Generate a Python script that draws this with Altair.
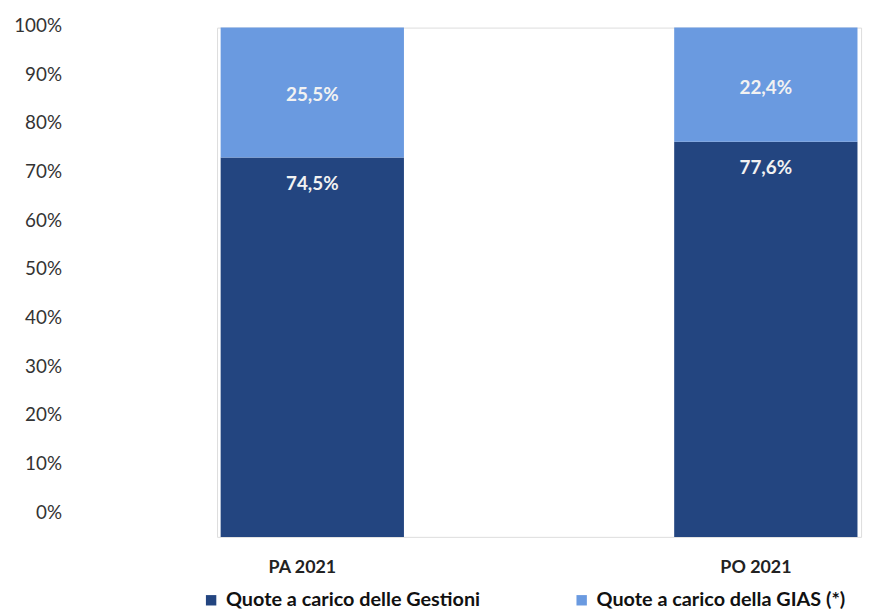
import altair as alt
import pandas as pd

categories = ["PA 2021", "PO 2021"]
gestioni = [0.745, 0.776]
gias = [0.255, 0.224]
gestioni_labels = ["74,5%", "77,6%"]
gias_labels = ["25,5%", "22,4%"]
series = ["Quote a carico delle Gestioni", "Quote a carico della GIAS (*)"]
colors = ["#234580", "#6a9ae0"]
ticks = [i / 10 for i in range(11)]

rows = []
for c, g, s, gl, sl in zip(categories, gestioni, gias, gestioni_labels, gias_labels):
    rows.append({"cat": c, "serie": series[0], "val": g, "ord": 0, "lab": gl, "ypos": g})
    rows.append({"cat": c, "serie": series[1], "val": s, "ord": 1, "lab": sl, "ypos": g + s / 2})
df = pd.DataFrame(rows)

FONT = "Lato"

xenc = alt.X("cat:N", sort=categories, title=None,
             scale=alt.Scale(paddingInner=0.58, paddingOuter=0),
             axis=alt.Axis(labelAngle=0, domain=False, ticks=False, grid=False, labelFont=FONT,
                           labelFontSize=18, labelFontWeight="bold", labelColor="#222222",
                           labelPadding=22, labelOffset=-10))

bars = alt.Chart(df).mark_bar(size=185, strokeWidth=0).encode(
    x=xenc,
    y=alt.Y("val:Q", stack="zero", scale=alt.Scale(domain=[0, 1]), axis=None),
    color=alt.Color("serie:N", scale=alt.Scale(domain=series, range=colors),
                    legend=alt.Legend(title=None, orient="none", direction="horizontal",
                                      legendX=-16, legendY=568, symbolType="square",
                                      symbolSize=110, symbolStrokeWidth=0, labelLimit=500,
                                      labelFont=FONT, labelFontSize=20, labelFontWeight="bold",
                                      labelColor="#111111", columnPadding=92, labelOffset=5)),
    order=alt.Order("ord:Q"),
)

txt_gias = alt.Chart(df[df["ord"] == 1]).mark_text(
    font=FONT, fontSize=19, fontWeight="bold", color="#f2f2f2", baseline="middle", dy=3
).encode(
    x=alt.X("cat:N", sort=categories),
    y=alt.Y("ypos:Q", scale=alt.Scale(domain=[0, 1])),
    text="lab:N",
)

txt_gest = alt.Chart(df[df["ord"] == 0]).mark_text(
    font=FONT, fontSize=19, fontWeight="bold", color="#f2f2f2", baseline="middle", dy=27
).encode(
    x=alt.X("cat:N", sort=categories),
    y=alt.Y("ypos:Q", scale=alt.Scale(domain=[0, 1])),
    text="lab:N",
)

main = alt.layer(bars, txt_gias, txt_gest)

axis_df = pd.DataFrame({"t": ticks})
axis_layer = alt.Chart(axis_df).mark_point(opacity=0).encode(
    y=alt.Y("t:Q", title=None,
            scale=alt.Scale(domain=[0, 1], range=[489, -2]),
            axis=alt.Axis(orient="left", values=ticks, format=".0%", domain=False, ticks=False,
                          tickSize=0, grid=False, labelFont=FONT, labelFontSize=19,
                          labelColor="#333333", labelPadding=0, offset=157))
)

chart = alt.layer(main, axis_layer).resolve_scale(y="independent").properties(
    width=650, height=514,
    autosize=alt.AutoSizeParams(type="none"),
    padding={"left": 211, "top": 17, "right": 8, "bottom": 70},
).configure_view(stroke="transparent", strokeWidth=0).configure(background="white")

chart.save("out.html", embed_options={"renderer": "svg", "actions": False})
